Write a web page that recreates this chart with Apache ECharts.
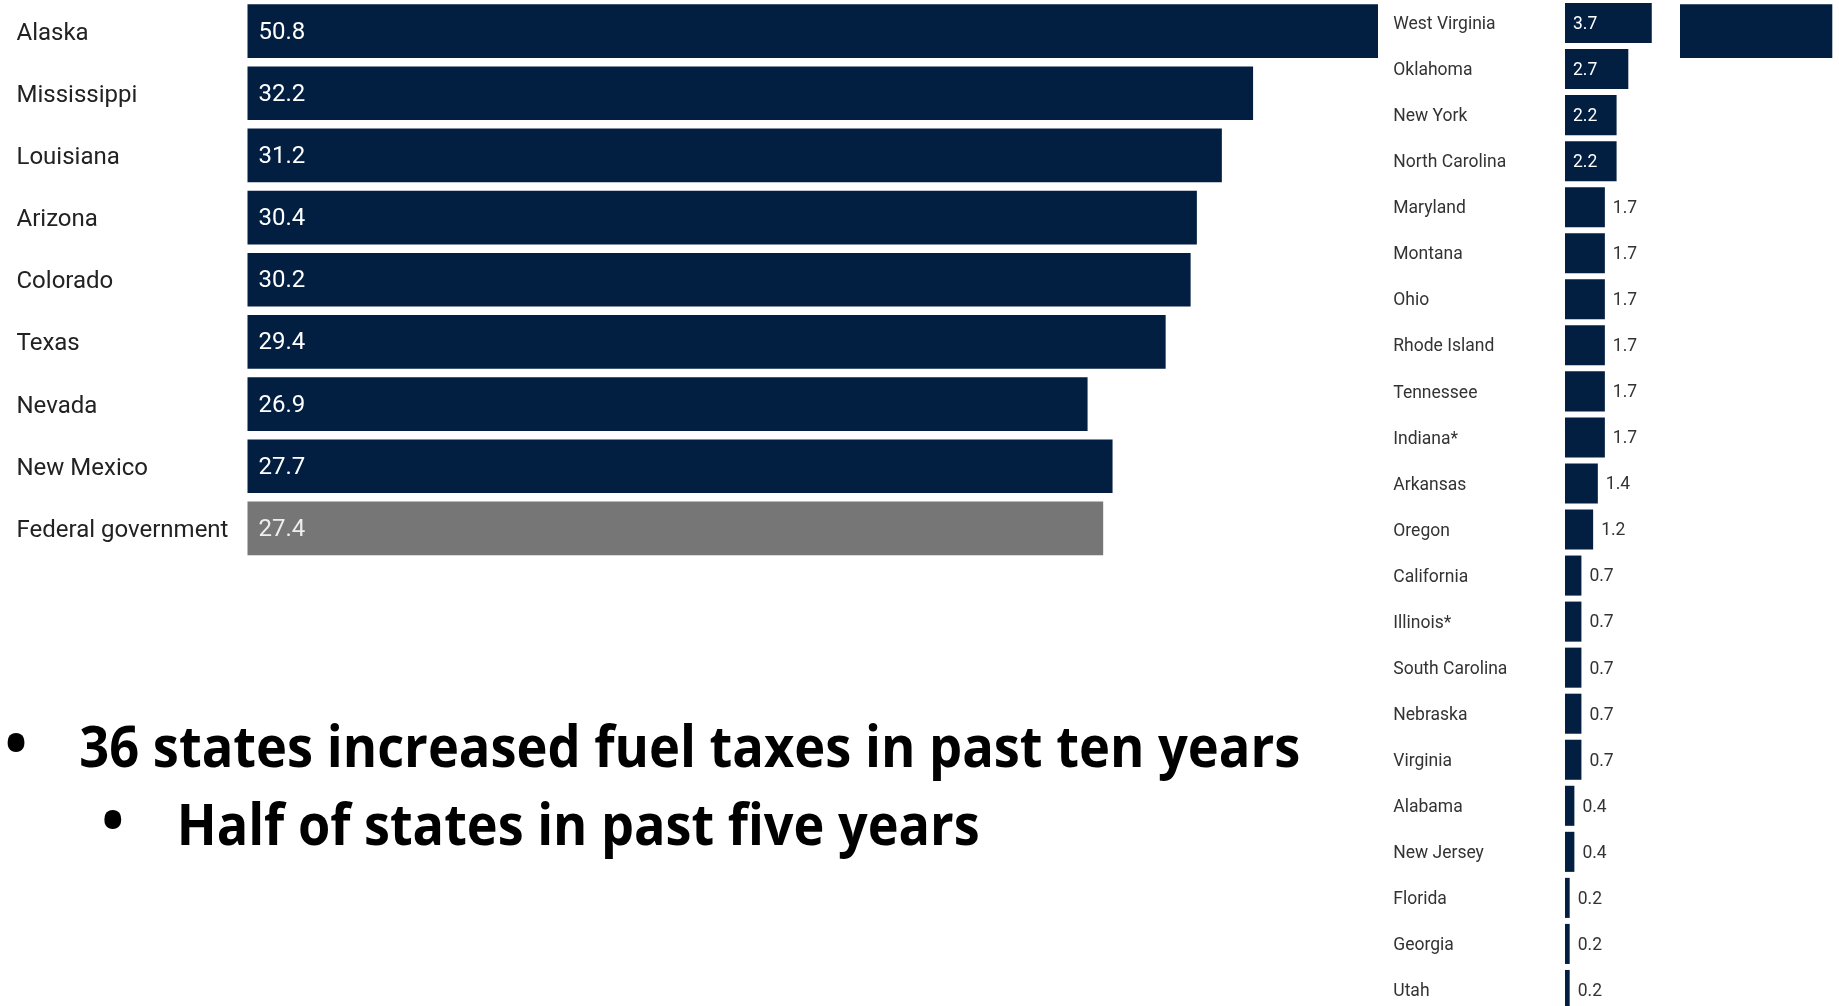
<!DOCTYPE html>
<html><head><meta charset="utf-8">
<script src="https://cdn.jsdelivr.net/npm/echarts@6/dist/echarts.min.js"></script>
<style>html,body{margin:0;padding:0;background:#fff}#c{width:1839px;height:1006px}</style>
</head><body><div id="c"></div>
<script>
const leftCategories = ['Alaska','Mississippi','Louisiana','Arizona','Colorado','Texas','Nevada','New Mexico','Federal government'];
const leftValues = [50.8,32.2,31.2,30.4,30.2,29.4,26.9,27.7,27.4];
const rightCategories = ['West Virginia','Oklahoma','New York','North Carolina','Maryland','Montana','Ohio','Rhode Island','Tennessee','Indiana*','Arkansas','Oregon','California','Illinois*','South Carolina','Nebraska','Virginia','Alabama','New Jersey','Florida','Georgia','Utah'];
const rightValues = [3.7,2.7,2.2,2.2,1.7,1.7,1.7,1.7,1.7,1.7,1.4,1.2,0.7,0.7,0.7,0.7,0.7,0.4,0.4,0.2,0.2,0.2];
const edgeCategories = [''];
const edgeValues = [1];
const bulletLines = ['36 states increased fuel taxes in past ten years', 'Half of states in past five years'];

const NAVY = '#021f41', GRAY = '#767676';
const chart = echarts.init(document.getElementById('c'), null, {renderer:'canvas'});

const leftData = leftValues.map((v,i) => {
  const fed = leftCategories[i] === 'Federal government';
  return {value:v, itemStyle:{color: fed ? GRAY : NAVY}, label:{color: fed ? '#eeeeee' : '#ffffff'}};
});
const rightData = rightValues.map(v => v >= 2
  ? {value:v, label:{position:'insideLeft', distance:8, color:'#ffffff'}}
  : {value:v, label:{position:'right', distance:8, color:'#333333'}});

const mctx = document.createElement('canvas').getContext('2d');
const BFONT = 'bold 57px "Open Sans"';
function fitScale(text, target){ mctx.font = BFONT; return target / mctx.measureText(text).width; }

const hiddenVal = {type:'value', min:0, show:false, splitLine:{show:false}};
chart.setOption({
  animation:false,
  grid:[
    {left:247.5, top:0, width:1130.5, height:559.5, outerBoundsMode:'none'},
    {left:1565, top:0, width:93.8, height:1013, outerBoundsMode:'none'},
    {left:1680, top:0, width:152.3, height:62.17, outerBoundsMode:'none'}
  ],
  xAxis:[
    Object.assign({gridIndex:0, max:36.2}, hiddenVal),
    Object.assign({gridIndex:1, max:4}, hiddenVal),
    Object.assign({gridIndex:2, max:1}, hiddenVal)
  ],
  yAxis:[
    {type:'category', gridIndex:0, data:leftCategories, inverse:true,
     axisLine:{show:false}, axisTick:{show:false},
     axisLabel:{align:'left', margin:231, color:'#222222',
       formatter: v => '{a|' + v + '}',
       rich:{a:{fontSize:24, fontFamily:'Roboto', color:'#222222', lineHeight:29, verticalAlign:'bottom'}}}},
    {type:'category', gridIndex:1, data:rightCategories, inverse:true,
     axisLine:{show:false}, axisTick:{show:false},
     axisLabel:{align:'left', margin:171.7, color:'#333333',
       formatter: v => '{a|' + v + '}',
       rich:{a:{fontSize:17.5, fontFamily:'Roboto', color:'#333333', lineHeight:21.5, verticalAlign:'bottom'}}}},
    {type:'category', gridIndex:2, data:edgeCategories, show:false}
  ],
  series:[
    {type:'bar', xAxisIndex:0, yAxisIndex:0, data:leftData, barCategoryGap:'13.6%',
     label:{show:true, position:'insideLeft', distance:11, offset:[0,1.5], fontSize:24, fontFamily:'Roboto'}},
    {type:'bar', xAxisIndex:1, yAxisIndex:1, data:rightData, barCategoryGap:'13%',
     itemStyle:{color:NAVY},
     label:{show:true, offset:[0,1.5], fontSize:17.5, fontFamily:'Roboto'}},
    {type:'bar', xAxisIndex:2, yAxisIndex:2, data:edgeValues, barCategoryGap:'13.6%',
     itemStyle:{color:NAVY}}
  ],
  graphic:[
    {type:'text', x:16, y:748, style:{text:'•', font:'bold 60px "Open Sans"', fill:'#000', align:'center', verticalAlign:'middle'}},
    {type:'text', x:79.3, y:751, scaleX:fitScale(bulletLines[0], 1221), style:{text:bulletLines[0], font:BFONT, fill:'#000', align:'left', verticalAlign:'middle'}},
    {type:'text', x:112.7, y:825, style:{text:'•', font:'bold 60px "Open Sans"', fill:'#000', align:'center', verticalAlign:'middle'}},
    {type:'text', x:176.7, y:829, scaleX:fitScale(bulletLines[1], 803), style:{text:bulletLines[1], font:BFONT, fill:'#000', align:'left', verticalAlign:'middle'}}
  ]
});
</script>
</body></html>
